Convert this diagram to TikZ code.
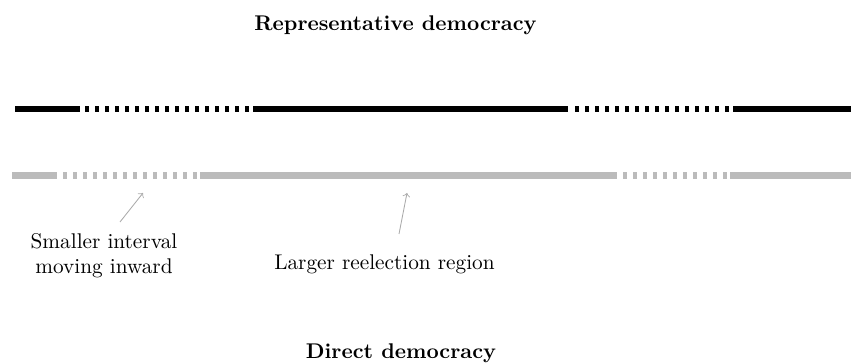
\documentclass[tikz,border=0pt]{standalone}
\definecolor{lg}{RGB}{187,187,187}
\definecolor{arrowg}{RGB}{170,170,170}
\begin{document}
\begin{tikzpicture}[x=0.47pt,y=-0.47pt,
  blk/.style={line width=3pt,draw=black},
  gry/.style={line width=3pt,draw=lg},
  dsh/.style={dash pattern=on 1.9pt off 2.8pt},
  note/.style={align=center,inner sep=0pt},
  ttl/.style={font=\bfseries,inner sep=0pt},
  pointer/.style={->,draw=arrowg,line width=0.4pt}]
\useasboundingbox (0,0) rectangle (851,363);
\clip (0,0) rectangle (851,363);
% titles
\node[ttl,anchor=base] (rep) at (395.5,31) {Representative democracy};
\node[ttl,anchor=base] (dir) at (401,359) {Direct democracy};
% representative democracy line (black)
\coordinate (b0) at (15,109);
\coordinate (b1) at (80,109);
\coordinate (b2) at (85,109);
\coordinate (b3) at (250,109);
\coordinate (b4) at (253,109);
\coordinate (b5) at (568,109);
\coordinate (b6) at (575,109);
\coordinate (b7) at (730,109);
\coordinate (b8) at (733,109);
\coordinate (b9) at (860,109);
\draw[blk] (b0) -- (b1);
\draw[blk,dsh] (b2) -- (b3);
\draw[blk] (b4) -- (b5);
\draw[blk,dsh] (b6) -- (b7);
\draw[blk] (b8) -- (b9);
% direct democracy line (gray)
\coordinate (g0) at (12,175.5);
\coordinate (g1) at (57,175.5);
\coordinate (g2) at (63,175.5);
\coordinate (g3) at (198,175.5);
\coordinate (g4) at (200,175.5);
\coordinate (g5) at (617,175.5);
\coordinate (g6) at (623,175.5);
\coordinate (g7) at (727,175.5);
\coordinate (g8) at (730,175.5);
\coordinate (g9) at (860,175.5);
\draw[gry] (g0) -- (g1);
\draw[gry,dsh] (g2) -- (g3);
\draw[gry] (g4) -- (g5);
\draw[gry,dsh] (g6) -- (g7);
\draw[gry] (g8) -- (g9);
% notes
\node[note,anchor=north] (small) at (104,233) {Smaller interval\\moving inward};
\node[note,anchor=base] (large) at (384.5,270) {Larger reelection region};
\coordinate (s0) at (120,222);
\coordinate (s1) at (143,193);
\coordinate (l0) at (399,234);
\coordinate (l1) at (407,193);
\draw[pointer] (s0) -- (s1);
\draw[pointer] (l0) -- (l1);
\end{tikzpicture}
\end{document}
